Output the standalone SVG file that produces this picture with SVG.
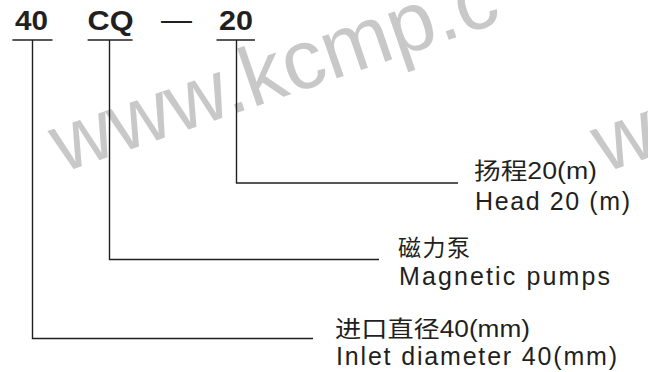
<svg xmlns="http://www.w3.org/2000/svg" width="648" height="372" viewBox="0 0 648 372">
<style>
.wm{font-family:"Liberation Sans",Arial,sans-serif;font-size:84px;fill:#c8c8c8}
.code{font-family:"Liberation Sans",Arial,sans-serif;font-weight:bold;font-size:27px;fill:#231f20}
.lbl{font-family:"Liberation Sans","Noto Sans CJK SC",Arial,sans-serif;font-size:25px;fill:#231f20}
.cjk{font-family:"Liberation Sans","Noto Sans CJK SC",Arial,sans-serif;font-size:23px;fill:#231f20}
.ln{fill:none;stroke:#231f20;stroke-width:1.4}
</style>
<rect width="648" height="372" fill="#ffffff"/>
<g id="watermark">
<text class="wm" transform="translate(62,173) rotate(-19)">www.kcmp.c</text>
<text class="wm" transform="translate(604,173) rotate(-19)">www</text>
</g>
<g id="code-40">
<text class="code" x="15" y="29.5" textLength="33" lengthAdjust="spacingAndGlyphs">40</text>
<line class="ln" x1="12.4" y1="40" x2="52.5" y2="40"/>
</g>
<g id="code-CQ">
<text class="code" x="87.6" y="29.5" textLength="46" lengthAdjust="spacingAndGlyphs">CQ</text>
<line class="ln" x1="87.6" y1="40" x2="132.6" y2="40"/>
</g>
<g id="dash">
<text x="161" y="30" style="font-family:'Liberation Sans',Arial,sans-serif;font-size:31px;fill:#231f20" textLength="31" lengthAdjust="spacingAndGlyphs">—</text>
</g>
<g id="code-20">
<text class="code" x="219" y="29.5" textLength="34" lengthAdjust="spacingAndGlyphs">20</text>
<line class="ln" x1="216.5" y1="40" x2="255" y2="40"/>
</g>
<g id="connectors">
<path class="ln" d="M32.5 40 V338.5 H313"/>
<path class="ln" d="M109.5 40 V259.5 H379"/>
<path class="ln" d="M236.5 40 V183 H458"/>
</g>
<g id="label-head">
<text class="cjk" x="474" y="178.5" textLength="123" lengthAdjust="spacingAndGlyphs">扬程20(m)</text>
<text class="lbl" x="475" y="210" textLength="155" lengthAdjust="spacing">Head 20 (m)</text>
</g>
<g id="label-pump">
<text class="cjk" x="398" y="256" textLength="72" lengthAdjust="spacing">磁力泵</text>
<text class="lbl" x="399" y="285" textLength="211" lengthAdjust="spacing">Magnetic pumps</text>
</g>
<g id="label-inlet">
<text class="cjk" x="335" y="336.5" textLength="195" lengthAdjust="spacingAndGlyphs">进口直径40(mm)</text>
<text class="lbl" x="336" y="365" textLength="281" lengthAdjust="spacing">Inlet diameter 40(mm)</text>
</g>
</svg>
